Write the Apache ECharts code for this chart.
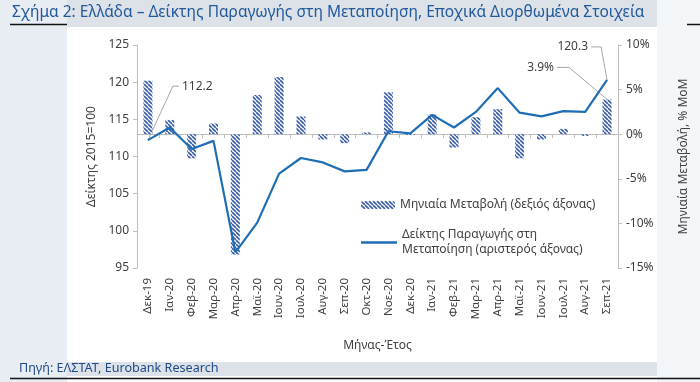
<!DOCTYPE html>
<html>
<head>
<meta charset="utf-8">
<script src="https://cdn.jsdelivr.net/npm/echarts@6/dist/echarts.min.js"></script>
<style>
html,body{margin:0;padding:0;background:#ffffff;}
#chart{width:700px;height:382px;}
</style>
</head>
<body>
<div id="chart"></div>
<script>
// ---- data ----
var categories = ['Δεκ-19','Ιαν-20','Φεβ-20','Μαρ-20','Απρ-20','Μαϊ-20','Ιουν-20','Ιουλ-20','Αυγ-20','Σεπ-20','Οκτ-20','Νοε-20','Δεκ-20','Ιαν-21','Φεβ-21','Μαρ-21','Απρ-21','Μαϊ-21','Ιουν-21','Ιουλ-21','Αυγ-21','Σεπ-21'];
var indexValues = [112.2, 113.9, 111.0, 112.1, 97.1, 101.1, 107.7, 109.8, 109.2, 108.0, 108.2, 113.4, 113.1, 115.6, 113.9, 116.0, 119.2, 115.9, 115.4, 116.1, 116.0, 120.3];
var momValues = [6.0, 1.6, -2.7, 1.2, -13.5, 4.4, 6.4, 2.0, -0.6, -1.0, 0.2, 4.7, -0.1, 2.2, -1.5, 1.9, 2.8, -2.7, -0.6, 0.6, -0.2, 3.9];
var leftTicks = {min: 95, max: 125, interval: 5};
var rightTicks = {min: -15, max: 10, interval: 5};
var barName = 'Μηνιαία Μεταβολή (δεξιός άξονας)';
var lineName = 'Δείκτης Παραγωγής στη Μεταποίηση (αριστερός άξονας)';
var titleText = 'Σχήμα 2: Ελλάδα – Δείκτης Παραγωγής στη Μεταποίηση, Εποχικά Διορθωμένα Στοιχεία';
var sourceText = 'Πηγή: ΕΛΣΤΑΤ, Eurobank Research';

// ---- hatch pattern ----
var pc = document.createElement('canvas');
pc.width = 4; pc.height = 4;
var g = pc.getContext('2d');
g.fillStyle = '#ffffff'; g.fillRect(0,0,4,4);
g.strokeStyle = '#3b5ea8'; g.lineWidth = 1.6;
for (var k = -8; k <= 8; k += 4) { g.beginPath(); g.moveTo(k, 0); g.lineTo(k + 4, 4); g.stroke(); }
var hatch = {image: pc, repeat: 'repeat'};

var FONT = 'Noto Sans';
var txt = '#404040';
var axisCol = '#bfbfbf';
var lineCol = '#1f6db4';

var chart = echarts.init(document.getElementById('chart'), null, {renderer: 'canvas'});
var option = {
  animation: false,
  textStyle: {fontFamily: FONT},
  grid: {left: 137, right: 82, top: 45, bottom: 114},
  legend: [{
    left: 356, top: 194, orient: 'vertical',
    itemWidth: 34, itemHeight: 8, itemGap: 5,
    data: [barName],
    textStyle: {fontFamily: FONT, fontSize: 12, color: txt}
  }, {
    left: 356, top: 215, orient: 'vertical',
    itemWidth: 36, itemHeight: 2.5,
    data: [{name: lineName, icon: 'rect'}],
    formatter: function(){ return 'Δείκτης Παραγωγής στη\nΜεταποίηση (αριστερός άξονας)'; },
    textStyle: {fontFamily: FONT, fontSize: 12, color: txt, lineHeight: 15, padding: [15,0,0,0]}
  }],
  xAxis: {
    type: 'category', data: categories, boundaryGap: true,
    name: 'Μήνας-Έτος', nameLocation: 'middle', nameGap: 72,
    nameTextStyle: {fontFamily: FONT, fontSize: 12, color: txt},
    axisLine: {lineStyle: {color: axisCol}},
    axisTick: {show: true, length: 4, lineStyle: {color: axisCol}},
    axisLabel: {rotate: 90, fontSize: 11.5, color: txt, margin: 10, fontFamily: FONT}
  },
  yAxis: [{
    type: 'value', min: leftTicks.min, max: leftTicks.max, interval: leftTicks.interval,
    name: 'Δείκτης 2015=100', nameLocation: 'middle', nameGap: 36,
    nameTextStyle: {fontFamily: FONT, fontSize: 12, color: txt},
    axisLine: {show: true, lineStyle: {color: axisCol}},
    axisTick: {show: true, length: 4, lineStyle: {color: axisCol}},
    axisLabel: {fontSize: 12, color: txt, margin: 8, fontFamily: FONT},
    splitLine: {show: false}
  }, {
    type: 'value', min: rightTicks.min, max: rightTicks.max, interval: rightTicks.interval,
    position: 'right',
    name: 'Μηνιαία Μεταβολή, % MoM', nameLocation: 'middle', nameGap: 60,
    nameTextStyle: {fontFamily: FONT, fontSize: 12, color: txt},
    axisLine: {show: true, lineStyle: {color: axisCol}},
    axisTick: {show: true, length: 4, lineStyle: {color: axisCol}},
    axisLabel: {fontSize: 12, color: txt, margin: 8, fontFamily: FONT, formatter: '{value}%'},
    splitLine: {show: false}
  }],
  series: [{
    name: barName, type: 'bar', yAxisIndex: 1, barWidth: 9,
    data: momValues,
    itemStyle: {color: hatch}
  }, {
    name: lineName, type: 'line', yAxisIndex: 0,
    data: indexValues, symbol: 'none',
    lineStyle: {color: lineCol, width: 2.2},
    itemStyle: {color: lineCol}
  }]
};
chart.setOption(option);

// ---- decorations & annotations ----
function annotations(){
  var last = categories.length - 1;
  var p0 = chart.convertToPixel({xAxisIndex: 0, yAxisIndex: 0}, [0, indexValues[0]]);
  var pL = chart.convertToPixel({xAxisIndex: 0, yAxisIndex: 0}, [last, indexValues[last]]);
  var pB = chart.convertToPixel({xAxisIndex: 0, yAxisIndex: 1}, [last, momValues[last]]);
  var lc = '#a6a6a6';
  return [
    {type: 'rect', z: -10, silent: true, shape: {x: 0, y: 0, width: 67, height: 382}, style: {fill: '#e8edf3'}},
    {type: 'rect', z: -10, silent: true, shape: {x: 657, y: 0, width: 43, height: 382}, style: {fill: '#f3f6f9'}},
    {type: 'rect', z: -9, silent: true, shape: {x: 67, y: 0, width: 590, height: 27}, style: {fill: '#dde2e8'}},
    {type: 'rect', z: -9, silent: true, shape: {x: 67, y: 362, width: 590, height: 14}, style: {fill: '#dde2e8'}},
    {type: 'line', z: -8, silent: true, shape: {x1: 10, y1: 24.5, x2: 67, y2: 24.5}, style: {stroke: '#111', lineWidth: 1.5}},
    {type: 'line', z: -8, silent: true, shape: {x1: 687, y1: 24.5, x2: 700, y2: 24.5}, style: {stroke: '#111', lineWidth: 1.5}},
    {type: 'line', z: -8, silent: true, shape: {x1: 10, y1: 378.5, x2: 700, y2: 378.5}, style: {stroke: '#111', lineWidth: 1.5}},
    {type: 'text', silent: true, style: {x: 12, y: 13, text: titleText, fontFamily: FONT, fontSize: 15.5, fill: '#22599b', verticalAlign: 'middle'}},
    {type: 'text', silent: true, style: {x: 19, y: 368, text: sourceText, fontFamily: FONT, fontSize: 12.6, fill: '#1f4a85', verticalAlign: 'middle'}},
    // 112.2 label
    {type: 'polyline', silent: true, shape: {points: [[p0[0], p0[1]], [p0[0] + 25, p0[1] - 54], [p0[0] + 31, p0[1] - 54]]}, style: {stroke: lc, lineWidth: 1, fill: null}},
    {type: 'text', silent: true, style: {x: p0[0] + 34, y: p0[1] - 54, text: indexValues[0].toFixed(1), fontFamily: FONT, fontSize: 12, fill: txt, verticalAlign: 'middle'}},
    // 120.3 label
    {type: 'polyline', silent: true, shape: {points: [[pL[0], pL[1]], [pL[0] - 6, pL[1] - 33], [pL[0] - 16, pL[1] - 33]]}, style: {stroke: lc, lineWidth: 1, fill: null}},
    {type: 'text', silent: true, style: {x: pL[0] - 19, y: pL[1] - 33, text: indexValues[last].toFixed(1), fontFamily: FONT, fontSize: 12, fill: txt, align: 'right', verticalAlign: 'middle'}},
    // 3.9% label
    {type: 'polyline', silent: true, shape: {points: [[pB[0], pB[1]], [pB[0] - 38, pB[1] - 32], [pB[0] - 50, pB[1] - 32]]}, style: {stroke: lc, lineWidth: 1, fill: null}},
    {type: 'text', silent: true, style: {x: pB[0] - 53, y: pB[1] - 32, text: momValues[last].toFixed(1) + '%', fontFamily: FONT, fontSize: 12, fill: txt, align: 'right', verticalAlign: 'middle'}}
  ];
}
chart.setOption({graphic: annotations()});
</script>
</body>
</html>
